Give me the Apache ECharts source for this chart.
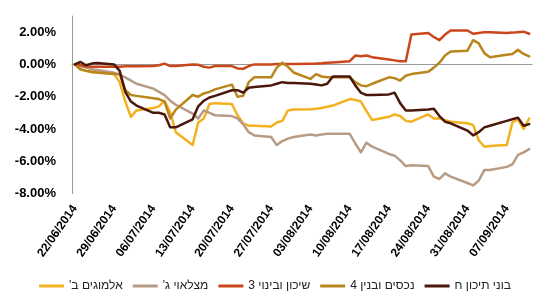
<!DOCTYPE html>
<html>
<head>
<meta charset="utf-8">
<script src="https://cdn.jsdelivr.net/npm/echarts@6/dist/echarts.min.js"></script>
<style>
	html, body { margin: 0; padding: 0; background: #fff; }
	#chart { width: 550px; height: 302px; }
</style>
</head>
<body>
<div id="chart"></div>
<script>
// trading days (Sun-Thu)
var dates = [
	'22/06/2014', '23/06/2014', '24/06/2014', '25/06/2014', '26/06/2014',
	'29/06/2014', '30/06/2014', '01/07/2014', '02/07/2014', '03/07/2014',
	'06/07/2014', '07/07/2014', '08/07/2014', '09/07/2014', '10/07/2014',
	'13/07/2014', '14/07/2014', '15/07/2014', '16/07/2014', '17/07/2014',
	'20/07/2014', '21/07/2014', '22/07/2014', '23/07/2014', '24/07/2014',
	'27/07/2014', '28/07/2014', '29/07/2014', '30/07/2014', '31/07/2014',
	'03/08/2014', '04/08/2014', '05/08/2014', '06/08/2014', '07/08/2014',
	'10/08/2014', '11/08/2014', '12/08/2014', '13/08/2014', '14/08/2014',
	'17/08/2014', '18/08/2014', '19/08/2014', '20/08/2014', '21/08/2014',
	'24/08/2014', '25/08/2014', '26/08/2014', '27/08/2014', '28/08/2014',
	'31/08/2014', '01/09/2014', '02/09/2014', '03/09/2014', '04/09/2014',
	'07/09/2014', '08/09/2014', '09/09/2014', '10/09/2014', '11/09/2014'
];

var names = ['אלמוגים ב\'\u200F', 'מצלאוי ג\'\u200F', 'שיכון ובינוי 3', 'נכסים ובנין 4', 'בוני תיכון ח'];
var colors = ['#F3B11F', '#B79C85', '#C9471B', '#B8861C', '#4A170A'];

// % change
var almogim = [
	0, -0.3, -0.4, -0.48, -0.5,
	-0.6, -1.1, -2.3, -3.25, -2.85,
	-2.7, -2.6, -2.25, -2.95, -4.2,
	-5.0, -3.6, -3.35, -2.45, -2.4,
	-2.45, -3.15, -3.65, -3.8, -3.8,
	-3.85, -3.6, -3.5, -2.85, -2.8,
	-2.78, -2.75, -2.7, -2.62, -2.55,
	-2.15, -2.2, -2.3, -2.9, -3.45,
	-3.25, -3.1, -3.2, -3.5, -3.55,
	-3.1, -3.35, -3.35, -3.45, -3.55,
	-3.65, -3.75, -4.7, -5.1, -5.05,
	-5.0, -3.6, -3.4, -4.0, -3.35
];
var matzlawi = [
	0, -0.1, -0.2, -0.3, -0.35,
	-0.52, -0.65, -0.8, -1.0, -1.2,
	-1.5, -1.7, -1.9, -2.25, -2.5,
	-3.05, -3.35, -2.85, -3.0, -3.15,
	-3.2, -3.35, -3.7, -4.2, -4.4,
	-4.5, -5.0, -4.75, -4.6, -4.5,
	-4.35, -4.4, -4.35, -4.3, -4.3,
	-4.3, -4.9, -5.45, -4.85, -5.1,
	-5.55, -5.65, -5.95, -6.3, -6.25,
	-6.3, -6.95, -7.1, -6.75, -6.95,
	-7.35, -7.5, -7.2, -6.55, -6.55,
	-6.35, -6.2, -5.6, -5.45, -5.25
];
var shikun = [
	0, -0.05, -0.12, -0.15, -0.15,
	-0.15, -0.15, -0.12, -0.12, -0.12,
	-0.1, -0.05, 0.05, -0.1, -0.1,
	0.0, -0.02, -0.15, -0.2, -0.1,
	-0.1, -0.25, -0.27, -0.1, 0.0,
	0.0, 0.02, 0.02, 0.03, 0.03,
	0.04, 0.05, 0.07, 0.1, 0.12,
	0.2, 0.55, 0.5, 0.55, 0.45,
	0.3, 0.25, 0.2, 0.2, 1.85,
	1.95, 1.7, 1.5, 1.85, 2.1,
	2.1, 1.9, 1.95, 2.0, 2.0,
	1.95, 1.97, 2.0, 2.03, 1.9
];
var nechasim = [
	0, -0.3, -0.4, -0.45, -0.5,
	-0.6, -0.6, -1.6, -1.9, -1.95,
	-2.1, -2.15, -2.3, -3.35, -2.8,
	-1.9, -2.0, -1.8, -1.7, -1.55,
	-1.25, -2.0, -1.95, -1.1, -0.8,
	-0.8, -0.2, 0.1, -0.15, -0.5,
	-0.9, -0.6, -0.75, -0.8, -0.8,
	-0.8, -1.1, -1.3, -1.35, -1.2,
	-0.8, -0.85, -1.0, -0.7, -0.6,
	-0.45, -0.2, 0.1, 0.55, 0.8,
	0.85, 1.5, 1.3, 0.7, 0.45,
	0.6, 0.65, 0.9, 0.65, 0.5
];
var boney = [
	0, 0.15, -0.05, 0.05, 0.08,
	0.0, -0.4, -1.7, -2.3, -2.55,
	-3.0, -3.0, -3.1, -3.9, -3.9,
	-3.4, -2.6, -2.25, -2.05, -1.95,
	-1.6, -1.6, -1.75, -1.45, -1.4,
	-1.3, -1.2, -1.1, -1.15, -1.15,
	-1.2, -1.25, -1.3, -1.2, -0.75,
	-0.75, -1.3, -1.75, -1.9, -1.9,
	-1.86, -1.75, -2.4, -2.85, -2.85,
	-2.8, -2.75, -3.2, -3.55, -3.65,
	-4.1, -4.4, -4.2, -3.9, -3.8,
	-3.5, -3.4, -3.3, -3.8, -3.7
];
var allValues = [almogim, matzlawi, shikun, nechasim, boney];

// calendar days for the date axis (weekends stay as gaps)
var days = [];
for (var i = 0; i < 82; i++) {
	var d = new Date(2014, 5, 22 + i);
	var dd = ('0' + d.getDate()).slice(-2), mm = ('0' + (d.getMonth() + 1)).slice(-2);
	days.push(dd + '/' + mm + '/' + d.getFullYear());
}

var series = [];
for (var n = 0; n < names.length; n++) {
	series.push({
		name: names[n],
		type: 'line',
		showSymbol: false,
		symbol: 'none',
		data: dates.map(function(dt, j) { return [dt, this[j]]; }, allValues[n]),
		lineStyle: { width: 2.5, color: colors[n], cap: 'round', join: 'round' },
		itemStyle: { color: colors[n] }
	});
}

var option = {
	animation: false,
	textStyle: { fontFamily: 'Arial, "Liberation Sans", sans-serif' },
	grid: { left: 72, right: 18, top: 16, bottom: 108.5 },
	legend: {
		top: 275,
		left: 'center',
		icon: 'rect',
		itemWidth: 25,
		itemHeight: 3,
		itemGap: 10,
		textStyle: { fontSize: 12, color: '#222' },
		data: names
	},
	xAxis: [{
		type: 'category',
		data: days,
		axisLine: { show: false, onZero: false },
		axisTick: { show: false },
		axisLabel: { interval: 6, rotate: 55, margin: 13, fontSize: 12, fontWeight: 'bold', color: '#000' }
	}, {
		// zero line
		type: 'category',
		data: days,
		position: 'bottom',
		axisLine: { show: true, onZero: true, lineStyle: { color: '#9a9a9a', width: 1 } },
		axisTick: { show: false },
		axisLabel: { show: false }
	}],
	yAxis: {
		type: 'value',
		min: -8,
		max: 3,
		interval: 2,
		axisLine: { show: true, lineStyle: { color: '#9a9a9a', width: 1 } },
		axisTick: { show: false },
		splitLine: { show: false },
		axisLabel: {
			showMaxLabel: false,
			margin: 16,
			fontSize: 13,
			fontWeight: 'bold',
			color: '#000',
			formatter: function(v) { return v.toFixed(2) + '%'; }
		}
	},
	series: series
};

var myChart = echarts.init(document.getElementById('chart'));
myChart.setOption(option);
</script>
</body>
</html>
